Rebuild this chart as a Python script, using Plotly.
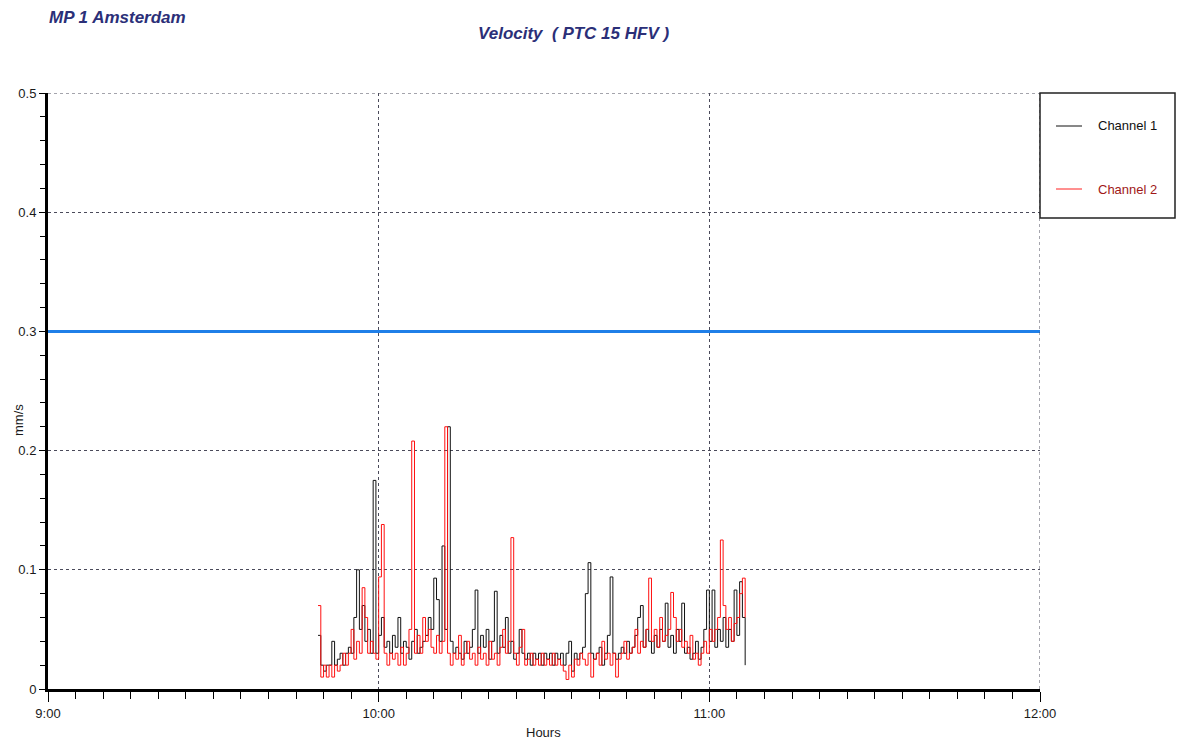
import pandas as pd
import plotly.graph_objects as go

# ---- data ----
START = "2000-01-01 09:49:00"
STEP = "30s"
X_RANGE = ["2000-01-01 09:00:00", "2000-01-01 12:00:00"]
Y_RANGE = [0, 0.5]
LIMIT_VALUE = 0.3

channel1 = [
    0.045, 0.02, 0.015, 0.02, 0.02, 0.04, 0.02, 0.025, 0.03, 0.02,
    0.03, 0.035, 0.03, 0.06, 0.10, 0.05, 0.07, 0.04, 0.05, 0.03,
    0.175, 0.03, 0.045, 0.06, 0.035, 0.04, 0.03, 0.045, 0.035, 0.06,
    0.03, 0.04, 0.035, 0.025, 0.04, 0.05, 0.03, 0.035, 0.04, 0.045,
    0.06, 0.05, 0.093, 0.075, 0.04, 0.12, 0.05, 0.22, 0.04, 0.03,
    0.035, 0.03, 0.025, 0.04, 0.03, 0.035, 0.05, 0.083, 0.03, 0.045,
    0.035, 0.05, 0.025, 0.04, 0.082, 0.03, 0.045, 0.035, 0.06, 0.03,
    0.04, 0.025, 0.03, 0.05, 0.03, 0.025, 0.03, 0.02, 0.03, 0.025,
    0.03, 0.02, 0.03, 0.025, 0.03, 0.02, 0.03, 0.025, 0.03, 0.02,
    0.03, 0.04, 0.015, 0.03, 0.025, 0.03, 0.035, 0.08, 0.106, 0.03,
    0.025, 0.03, 0.035, 0.02, 0.03, 0.045, 0.094, 0.03, 0.025, 0.03,
    0.035, 0.03, 0.04, 0.03, 0.035, 0.045, 0.06, 0.07, 0.035, 0.05,
    0.04, 0.03, 0.045, 0.035, 0.05, 0.04, 0.072, 0.035, 0.045, 0.03,
    0.05, 0.04, 0.072, 0.03, 0.035, 0.025, 0.03, 0.04, 0.025, 0.035,
    0.05, 0.083, 0.04, 0.083, 0.035, 0.05, 0.04, 0.06, 0.035, 0.05,
    0.04, 0.083, 0.045, 0.09, 0.06, 0.02,
]

channel2 = [
    0.07, 0.01, 0.02, 0.01, 0.02, 0.01, 0.02, 0.015, 0.02, 0.03,
    0.02, 0.03, 0.05, 0.025, 0.04, 0.03, 0.085, 0.06, 0.03, 0.04,
    0.03, 0.025, 0.094, 0.138, 0.03, 0.02, 0.03, 0.025, 0.03, 0.02,
    0.035, 0.02, 0.03, 0.05, 0.208, 0.03, 0.045, 0.03, 0.06, 0.04,
    0.05, 0.035, 0.03, 0.045, 0.03, 0.04, 0.22, 0.03, 0.02, 0.03,
    0.025, 0.045, 0.02, 0.03, 0.04, 0.025, 0.03, 0.02, 0.035, 0.025,
    0.03, 0.02, 0.04, 0.025, 0.03, 0.02, 0.035, 0.05, 0.03, 0.04,
    0.127, 0.03, 0.02, 0.035, 0.05, 0.02, 0.025, 0.03, 0.02, 0.025,
    0.02, 0.03, 0.02, 0.025, 0.02, 0.03, 0.02, 0.025, 0.02, 0.015,
    0.008, 0.02, 0.01, 0.025, 0.02, 0.03, 0.025, 0.02, 0.03, 0.01,
    0.025, 0.03, 0.02, 0.04, 0.025, 0.03, 0.02, 0.03, 0.01, 0.025,
    0.03, 0.04, 0.025, 0.03, 0.035, 0.05, 0.03, 0.04, 0.035, 0.05,
    0.093, 0.04, 0.05, 0.035, 0.06, 0.04, 0.045, 0.05, 0.081, 0.06,
    0.04, 0.05, 0.035, 0.04, 0.03, 0.045, 0.025, 0.03, 0.02, 0.03,
    0.04, 0.03, 0.05, 0.04, 0.05, 0.06, 0.125, 0.07, 0.05, 0.06,
    0.04, 0.055, 0.06, 0.08, 0.093, 0.06,
]

series_names = ["Channel 1", "Channel 2"]
y_tickvals = [0, 0.1, 0.2, 0.3, 0.4, 0.5]
y_ticktext = ["0", "0.1", "0.2", "0.3", "0.4", "0.5"]

times = pd.date_range(START, periods=len(channel1), freq=STEP)

# ---- figure ----
W, H = 1181, 740
PL, PR, PT, PB = 48, 1040, 93, 689          # plot area in page pixels
L, T = PL, PT
R, B = W - PR, H - PB
PW, PH = PR - PL, PB - PT

def px_x(x):
    return (x - PL) / PW

def px_y(y):
    return (PB - y) / PH

NAVY = "#2b2f78"
FONT = "Liberation Sans, Arial, sans-serif"
TXT = "#1a1a1a"
GRID = "#4a4a5a"

fig = go.Figure()

fig.add_trace(go.Scatter(
    x=X_RANGE, y=[LIMIT_VALUE, LIMIT_VALUE], mode="lines",
    line=dict(color="#1f7fe8", width=3), showlegend=False, hoverinfo="skip",
))
fig.add_trace(go.Scatter(
    x=times, y=channel1, mode="lines", name=series_names[0],
    line=dict(color="#111111", width=1, shape="hv"), showlegend=False,
))
fig.add_trace(go.Scatter(
    x=times, y=channel2, mode="lines", name=series_names[1],
    line=dict(color="#ff1010", width=1, shape="hv"), showlegend=False,
))

fig.update_layout(
    width=W, height=H,
    margin=dict(l=L, r=R, t=T, b=B),
    paper_bgcolor="white", plot_bgcolor="white",
    font=dict(family=FONT, size=13, color=TXT),
    showlegend=False,
)

fig.update_xaxes(
    type="date", range=X_RANGE,
    tickformat="%-H:%M", dtick=3600000,
    ticks="outside", ticklen=10, tickwidth=1, tickcolor="black",
    showline=True, linecolor="black", linewidth=3,
    showgrid=True, gridcolor=GRID, griddash="dot", gridwidth=1,
    zeroline=False,
    minor=dict(dtick=300000, ticks="outside", ticklen=7, tickcolor="black", tickwidth=1, showgrid=False),
    tickfont=dict(size=13, color=TXT),
)
fig.update_yaxes(
    range=Y_RANGE,
    tickvals=y_tickvals, ticktext=y_ticktext,
    ticks="outside", ticklen=6, tickwidth=1, tickcolor="black",
    showline=True, linecolor="black", linewidth=3,
    showgrid=True, gridcolor=GRID, griddash="dot", gridwidth=1,
    zeroline=False,
    minor=dict(dtick=0.02, ticks="outside", ticklen=5, tickcolor="black", tickwidth=1, showgrid=False),
    tickfont=dict(size=13, color=TXT),
)

# dotted grid lines at the top (0.5) and right (12:00) edges
fig.add_shape(type="line", xref="x", yref="y", x0=X_RANGE[0], x1=X_RANGE[1],
              y0=Y_RANGE[1], y1=Y_RANGE[1], line=dict(color=GRID, width=1, dash="dot"))
fig.add_shape(type="line", xref="x", yref="y", x0=X_RANGE[1], x1=X_RANGE[1],
              y0=Y_RANGE[0], y1=Y_RANGE[1], line=dict(color=GRID, width=1, dash="dot"))

# titles / axis labels
fig.add_annotation(
    text="<b><i>MP 1 Amsterdam</i></b>", xref="paper", yref="paper",
    x=px_x(47), y=px_y(17), xanchor="left", yanchor="middle", showarrow=False,
    font=dict(size=17, color=NAVY, family=FONT),
)
fig.add_annotation(
    text="<b><i>Velocity  ( PTC 15 HFV )</i></b>", xref="paper", yref="paper",
    x=px_x(573), y=px_y(33), xanchor="center", yanchor="middle", showarrow=False,
    font=dict(size=17, color=NAVY, family=FONT),
)
fig.add_annotation(
    text="mm/s", xref="paper", yref="paper", textangle=-90,
    x=px_x(18), y=px_y(420), xanchor="center", yanchor="middle", showarrow=False,
    font=dict(size=13, color=TXT),
)
fig.add_annotation(
    text="Hours", xref="paper", yref="paper",
    x=px_x(543), y=px_y(732), xanchor="center", yanchor="middle", showarrow=False,
    font=dict(size=13, color=TXT),
)

# legend box (drawn)
fig.add_shape(type="rect", xref="paper", yref="paper",
              x0=px_x(1040), x1=px_x(1175), y0=px_y(218), y1=px_y(93),
              line=dict(color="#222222", width=1.5), fillcolor="white", layer="above")
legend_items = [(series_names[0], "#111111", "#111111", "solid", 126),
                (series_names[1], "#ff2020", "#a01818", "solid", 189)]
for name, lc, tc, dash, yy in legend_items:
    fig.add_shape(type="line", xref="paper", yref="paper",
                  x0=px_x(1056), x1=px_x(1082), y0=px_y(yy), y1=px_y(yy),
                  line=dict(color=lc, width=1, dash=dash), layer="above")
    fig.add_annotation(text=name, xref="paper", yref="paper",
                       x=px_x(1096), y=px_y(yy), xanchor="left", yanchor="middle",
                       showarrow=False, font=dict(size=13, color=tc))

# remove the default 8px page margin so the figure fills the window exactly
fig.write_html(
    "out.html",
    config={"displayModeBar": False},
    post_script="document.body.style.margin='0';document.body.style.overflow='hidden';",
)
